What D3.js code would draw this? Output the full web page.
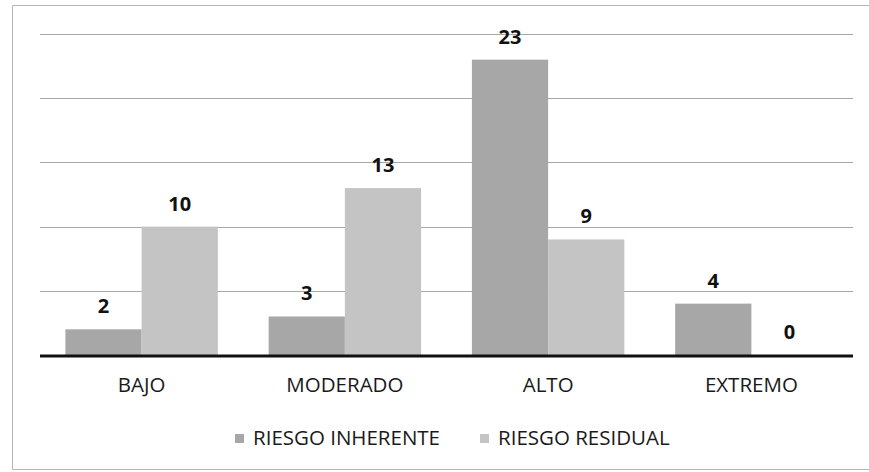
<!DOCTYPE html>
<html>
<head>
<meta charset="utf-8">
<script src="https://cdn.jsdelivr.net/npm/d3@7"></script>
<style>
  body { margin: 0; background: #fff; }
  svg { display: block; }
</style>
</head>
<body>
<div id="chart"></div>
<script>
// Chart data
var categories = ["BAJO", "MODERADO", "ALTO", "EXTREMO"];
var seriesNames = ["RIESGO INHERENTE", "RIESGO RESIDUAL"];
var inherente = [2, 3, 23, 4];
var residual = [10, 13, 9, 0];
var yTicks = [5, 10, 15, 20, 25];

var svgWidth = 869;
var svgHeight = 472;
var colors = ["#a7a7a7", "#c4c4c4"];
var font = "'Open Sans', 'DejaVu Sans', sans-serif";

var svg = d3.select("#chart").append("svg")
            .attr("width", svgWidth)
            .attr("height", svgHeight);

// Frame of the chart area (left, top, bottom edges visible)
svg.append("path")
   .attr("d", "M870,5.5 H12.5 V469.5 H870")
   .attr("fill", "none")
   .attr("stroke", "#b5b5b5")
   .attr("stroke-width", 1);

// Scales
var x0 = d3.scaleBand()
           .domain(categories)
           .range([40, 853])
           .paddingInner(0.25)
           .paddingOuter(0.125);

var x1 = d3.scaleBand()
           .domain(seriesNames)
           .range([0, x0.bandwidth()]);

var y = d3.scaleLinear()
          .domain([0, 25])
          .range([355, 34]);

// Gridlines
svg.append("g").selectAll("line")
   .data(yTicks)
   .enter()
   .append("line")
   .attr("x1", 40)
   .attr("x2", 853)
   .attr("y1", function(d) { return Math.round(y(d)) + 0.5; })
   .attr("y2", function(d) { return Math.round(y(d)) + 0.5; })
   .attr("stroke", "#a8a8a8")
   .attr("stroke-width", 1);

// Build rows for bars
var rows = [];
categories.forEach(function(c, i) {
  rows.push({ cat: c, series: seriesNames[0], value: inherente[i], s: 0 });
  rows.push({ cat: c, series: seriesNames[1], value: residual[i], s: 1 });
});

// Bars
svg.append("g").selectAll("rect")
   .data(rows)
   .enter()
   .append("rect")
   .attr("x", function(d) { return x0(d.cat) + x1(d.series); })
   .attr("y", function(d) { return y(d.value); })
   .attr("width", x1.bandwidth())
   .attr("height", function(d) { return y(0) - y(d.value); })
   .attr("fill", function(d) { return colors[d.s]; });

// Value labels
svg.append("g").selectAll("text")
   .data(rows)
   .enter()
   .append("text")
   .text(function(d) { return d.value; })
   .attr("x", function(d) { return x0(d.cat) + x1(d.series) + x1.bandwidth() / 2; })
   .attr("y", function(d) { return y(d.value) - 16; })
   .attr("text-anchor", "middle")
   .attr("font-family", font)
   .attr("font-weight", "bold")
   .attr("font-size", "20px")
   .attr("fill", "#111");

// Baseline
svg.append("line")
   .attr("x1", 40)
   .attr("x2", 853)
   .attr("y1", y(0) + 1)
   .attr("y2", y(0) + 1)
   .attr("stroke", "#111")
   .attr("stroke-width", 3);

// Category labels
svg.append("g").selectAll("text")
   .data(categories)
   .enter()
   .append("text")
   .text(function(d) { return d; })
   .attr("x", function(d) { return x0(d) + x0.bandwidth() / 2; })
   .attr("y", 392)
   .attr("text-anchor", "middle")
   .attr("font-family", font)
   .attr("font-size", "20.5px")
   .attr("fill", "#1a1a1a");

// Legend
var legendX = [235, 480];
var legend = svg.append("g").selectAll("g")
                .data(seriesNames)
                .enter()
                .append("g")
                .attr("transform", function(d, i) { return "translate(" + legendX[i] + ",0)"; });

legend.append("rect")
      .attr("x", 0)
      .attr("y", 434)
      .attr("width", 9)
      .attr("height", 9)
      .attr("fill", function(d, i) { return colors[i]; });

legend.append("text")
      .text(function(d) { return d; })
      .attr("x", 18)
      .attr("y", 445)
      .attr("font-family", font)
      .attr("font-size", "20.5px")
      .attr("fill", "#1a1a1a");
</script>
</body>
</html>
